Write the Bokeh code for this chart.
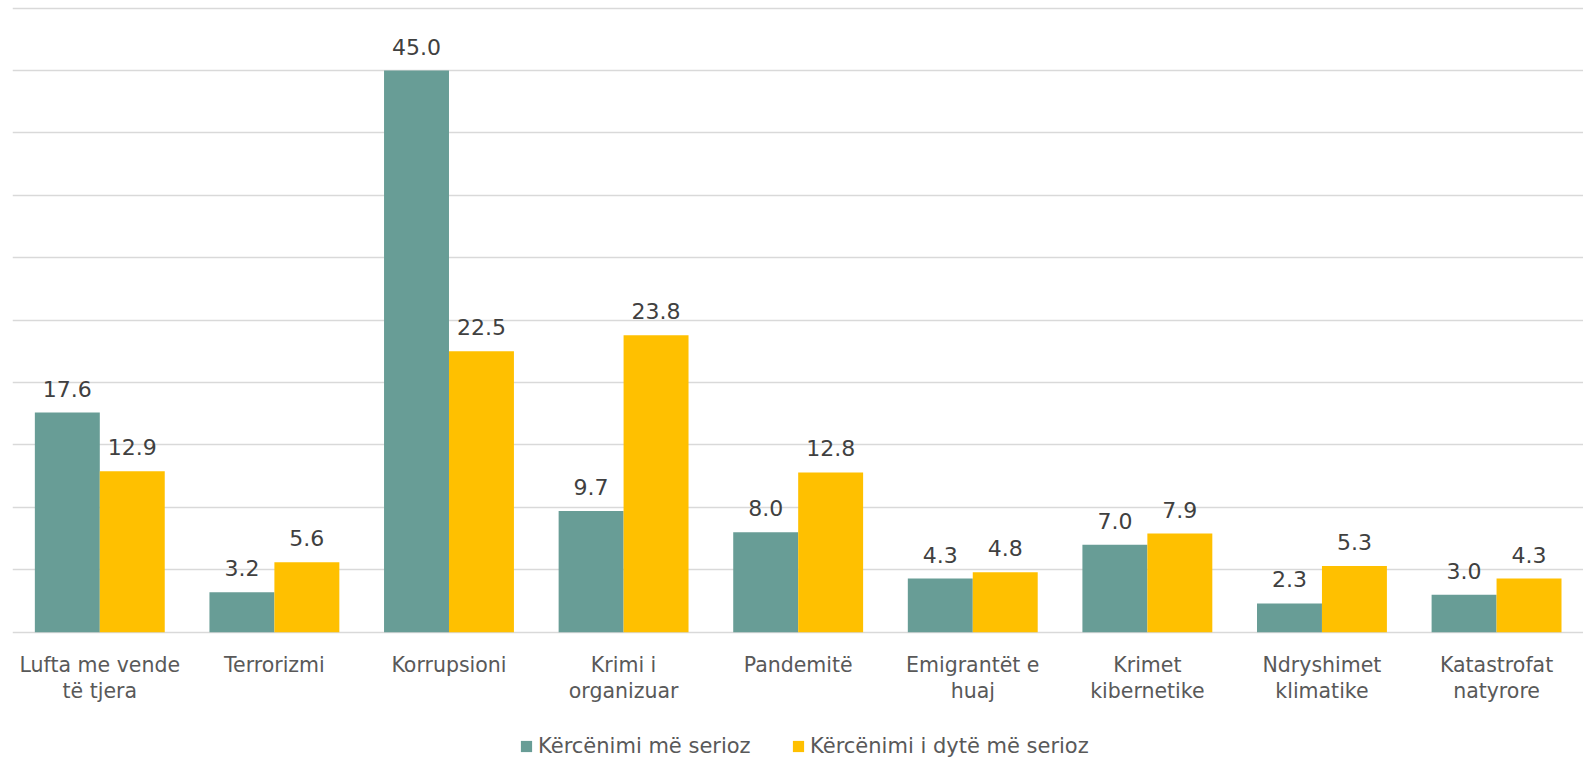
from bokeh.plotting import figure
from bokeh.models import ColumnDataSource, Range1d, FixedTicker, Legend, LegendItem
from bokeh.core.properties import value
from bokeh.embed import file_html
from bokeh.resources import INLINE

categories = ["Lufta me vende\ntë tjera", "Terrorizmi", "Korrupsioni", "Krimi i\norganizuar",
              "Pandemitë", "Emigrantët e\nhuaj", "Krimet\nkibernetike", "Ndryshimet\nklimatike",
              "Katastrofat\nnatyrore"]
series_names = ["Kërcënimi më serioz", "Kërcënimi i dytë më serioz"]
most_serious = [17.6, 3.2, 45.0, 9.7, 8.0, 4.3, 7.0, 2.3, 3.0]
second_serious = [12.9, 5.6, 22.5, 23.8, 12.8, 4.8, 7.9, 5.3, 4.3]
y_ticks = [0, 5, 10, 15, 20, 25, 30, 35, 40, 45, 50]

FONT = "DejaVu Sans"
TEAL = "#689D96"
GOLD = "#FFC000"

idx = list(range(len(categories)))
bw = 0.372
off = bw / 2

src1 = ColumnDataSource(dict(x=[i - off for i in idx], y=most_serious,
                             lab=["%.1f" % v for v in most_serious]))
src2 = ColumnDataSource(dict(x=[i + off for i in idx], y=second_serious,
                             lab=["%.1f" % v for v in second_serious]))
line1 = [c.split("\n")[0] for c in categories]
line2 = [c.split("\n")[1] if "\n" in c else "" for c in categories]
src_c = ColumnDataSource(dict(x=idx, y=[0] * len(idx), l1=line1, l2=line2))

p = figure(width=1583, height=760, output_backend="svg", toolbar_location=None,
           x_range=Range1d(-0.5, 8.498), y_range=Range1d(-10.279, 50.609),
           min_border_left=12, min_border_right=0, min_border_top=0, min_border_bottom=0)
p.axis.visible = False
p.xgrid.grid_line_color = None
p.ygrid.ticker = FixedTicker(ticks=y_ticks)
p.ygrid.grid_line_color = "#D9D9D9"
p.ygrid.grid_line_width = 1.6
p.outline_line_color = None
p.background_fill_color = "white"
p.border_fill_color = "white"

r1 = p.vbar(x="x", top="y", bottom=0, width=bw, source=src1, fill_color=TEAL, line_color=None)
r2 = p.vbar(x="x", top="y", bottom=0, width=bw, source=src2, fill_color=GOLD, line_color=None)

for s in (src1, src2):
    p.text(x="x", y="y", text="lab", source=s, text_align="center", text_baseline="alphabetic",
           y_offset=-24, text_font=value(FONT), text_font_size="22px", text_color="#404040")

p.text(x="x", y="y", text="l1", source=src_c, text_align="center", text_baseline="alphabetic",
       y_offset=33, text_font=value(FONT), text_font_size="20.5px", text_color="#595959")
p.text(x="x", y="y", text="l2", source=src_c, text_align="center", text_baseline="alphabetic",
       y_offset=59, text_font=value(FONT), text_font_size="20.5px", text_color="#595959")

for r, name, x in ((r1, series_names[0], 507), (r2, series_names[1], 779)):
    lg = Legend(items=[LegendItem(label=name, renderers=[r])], location=(x, 2),
                orientation="horizontal", padding=0, margin=0, border_line_color=None,
                background_fill_alpha=0, glyph_width=14, glyph_height=14, label_standoff=5,
                label_text_font=FONT, label_text_font_size="21px", label_text_color="#595959")
    p.add_layout(lg, "center")

open("out.html", "w").write(file_html(p, INLINE))
